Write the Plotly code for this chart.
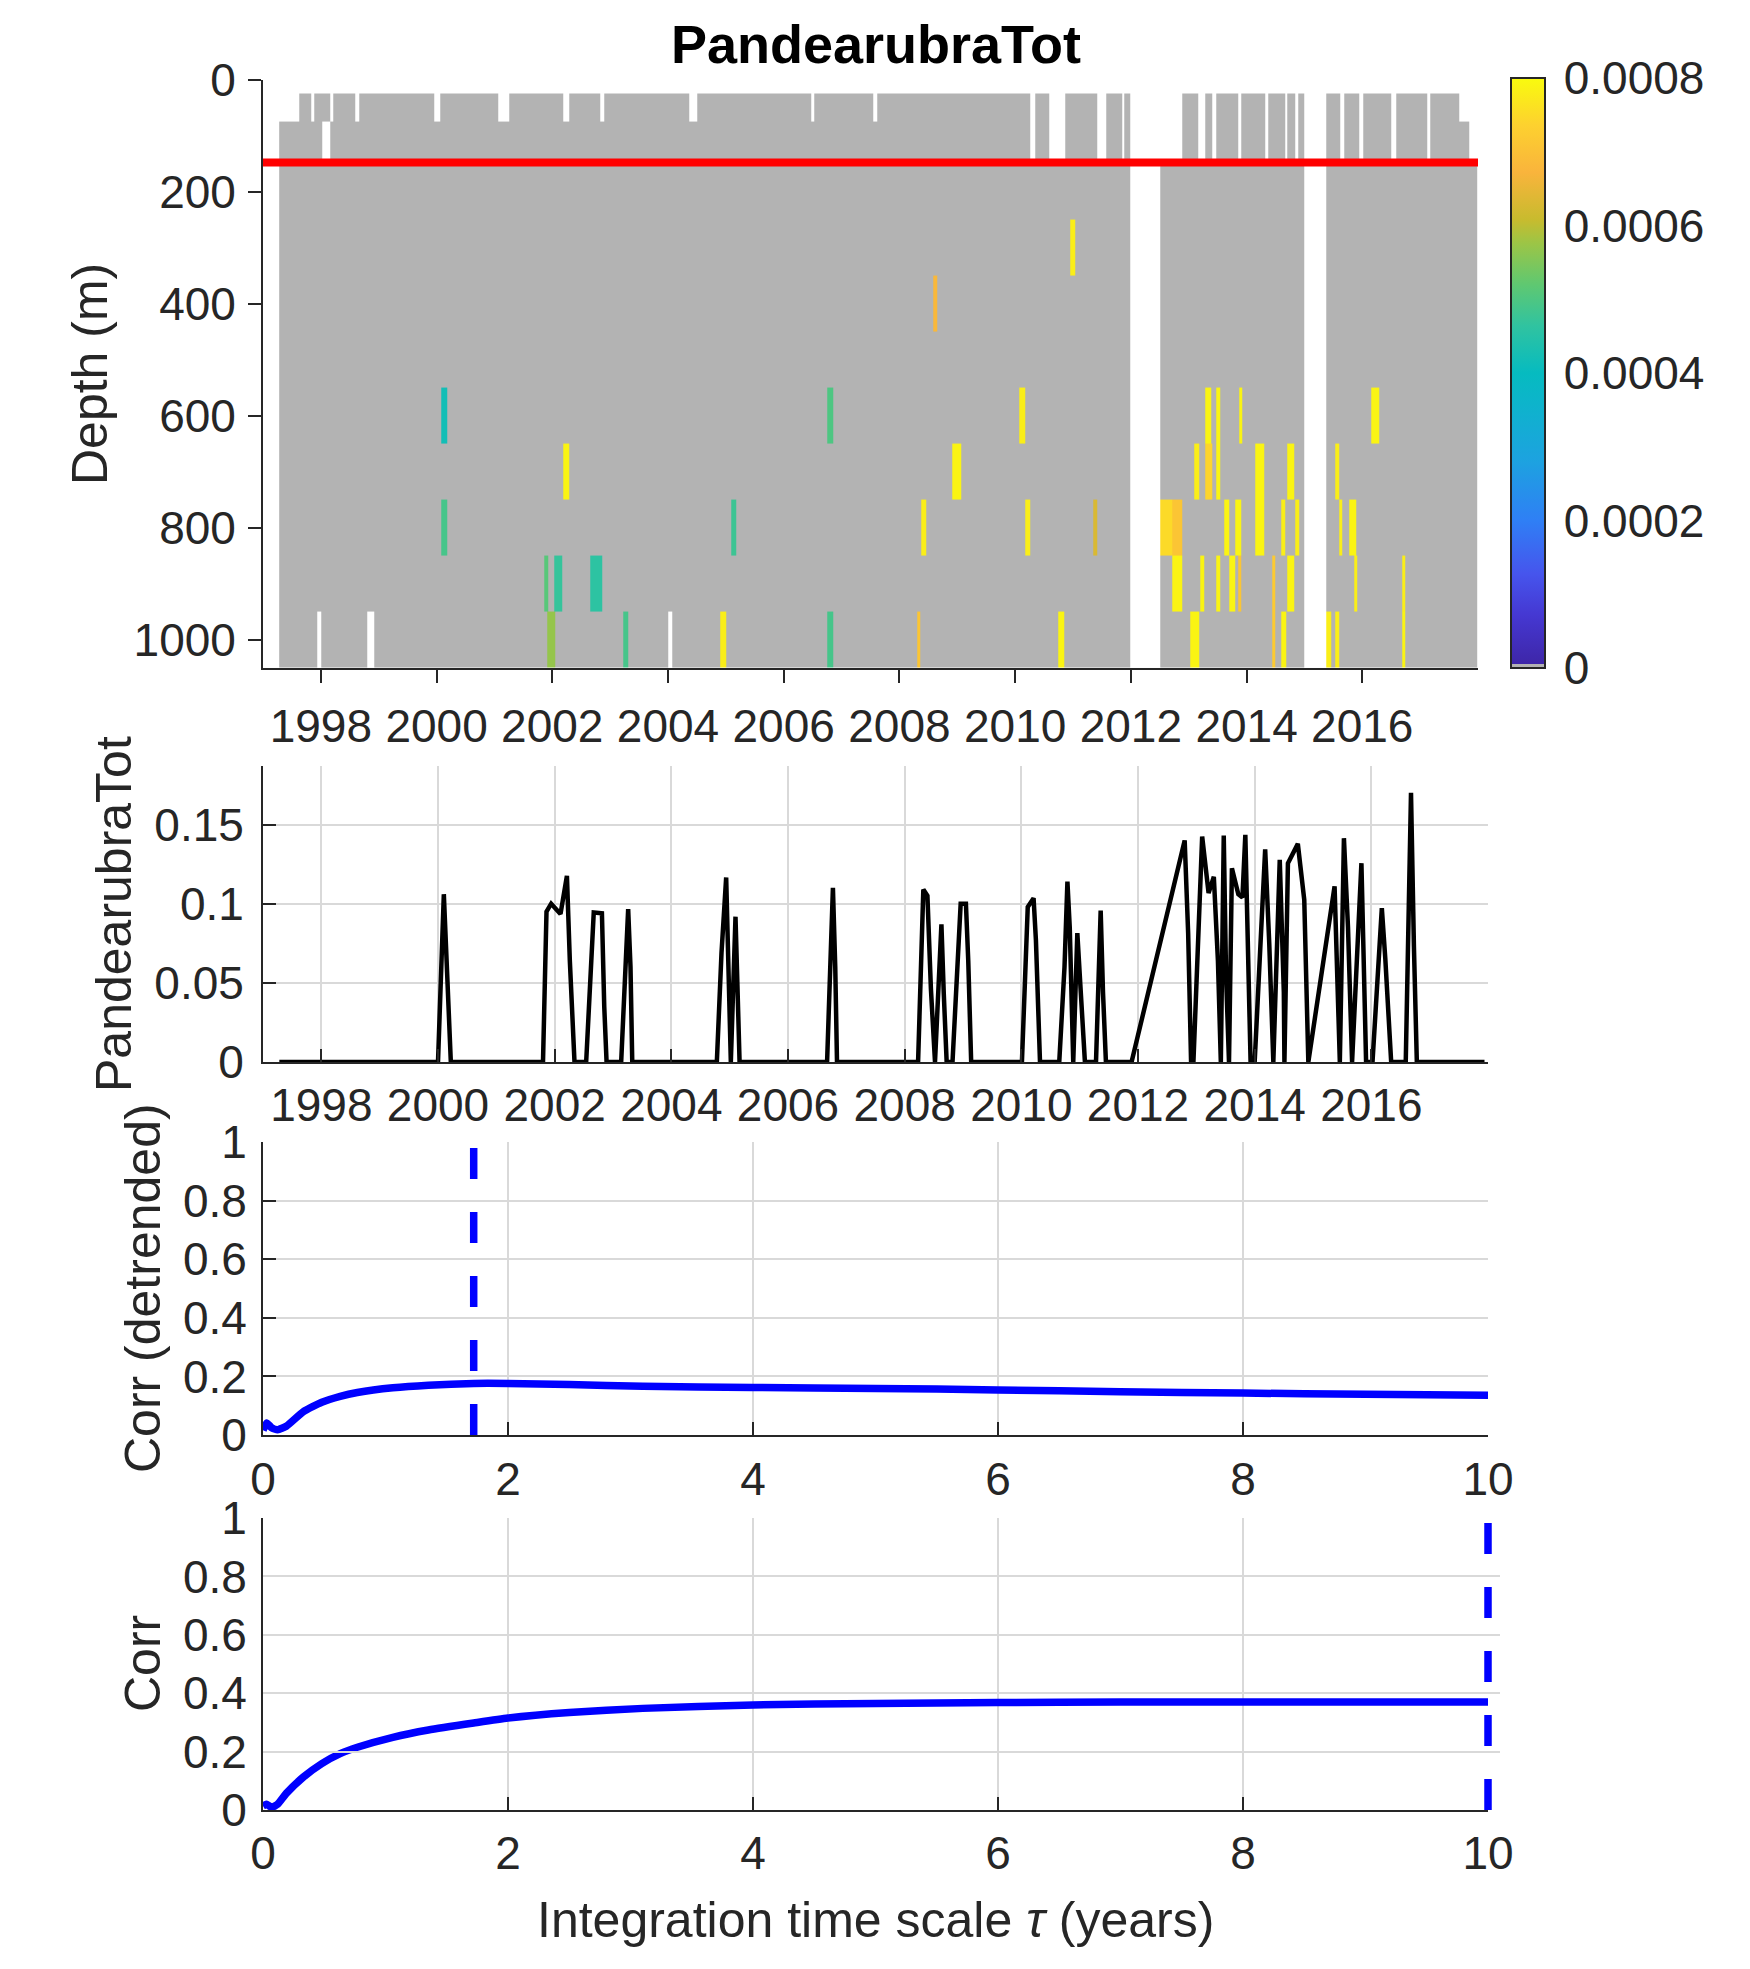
import plotly.graph_objects as go

# ---- top panel: depth/time section ----
depth_edges = [25, 75, 150, 250, 350, 450, 550, 650, 750, 850, 950, 1050]
row_depth = [50, 110, 200, 300, 400, 500, 600, 700, 800, 900, 1000]
row_start = [1997.62, 1997.28, 1997.28, 1997.28, 1997.28, 1997.28, 1997.28, 1997.28, 1997.28, 1997.28, 1997.28]
row_end = [2017.68, 2017.84, 2017.98, 2017.98, 2017.98, 2017.98, 2017.98, 2017.98, 2017.98, 2017.98, 2017.98]

gaps_all = [(2011.98, 2012.51), (2014.99, 2015.38)]
gaps_upper = [(2010.26, 2010.34), (2010.58, 2010.86), (2011.41, 2011.58), (2011.85, 2011.89),
              (2011.98, 2012.88), (2013.16, 2013.29), (2013.40, 2013.47), (2013.86, 2013.91),
              (2014.33, 2014.37), (2014.67, 2014.71), (2014.84, 2014.90), (2015.61, 2015.68),
              (2015.94, 2016.01), (2016.50, 2016.58), (2017.12, 2017.17)]
gaps_row50 = [(1997.84, 1997.89), (1998.16, 1998.22), (1998.60, 1998.67), (1999.96, 2000.07),
              (2001.07, 2001.25), (2002.18, 2002.29), (2002.82, 2002.90), (2004.37, 2004.50),
              (2006.47, 2006.53), (2007.54, 2007.62)]
gaps_row110 = [(1998.02, 1998.16)]
gaps_row1000 = [(1997.93, 1998.00), (1998.80, 1998.92), (2004.00, 2004.07)]

# (start, end, depth, value)
hits = [
    (2000.08, 2000.18, 600, 0.00042), (2006.76, 2006.85, 600, 0.00050),
    (2002.19, 2002.29, 700, 0.00079),
    (2000.08, 2000.18, 800, 0.00049), (2005.09, 2005.18, 800, 0.00048),
    (2001.86, 2001.93, 900, 0.00051), (2002.04, 2002.17, 900, 0.00047), (2002.65, 2002.86, 900, 0.00046),
    (2001.92, 2002.05, 1000, 0.00057), (2003.23, 2003.31, 1000, 0.00049),
    (2004.90, 2005.00, 1000, 0.00078), (2006.76, 2006.85, 1000, 0.00049),
    (2010.95, 2011.04, 300, 0.00078),
    (2008.59, 2008.66, 400, 0.00068),
    (2010.07, 2010.17, 600, 0.00078), (2013.28, 2013.38, 600, 0.00079), (2013.48, 2013.54, 600, 0.00079),
    (2013.87, 2013.92, 600, 0.00079), (2016.16, 2016.30, 600, 0.00079),
    (2008.92, 2009.07, 700, 0.00079), (2013.10, 2013.18, 700, 0.00078), (2013.28, 2013.40, 700, 0.00074),
    (2013.48, 2013.54, 700, 0.00079), (2014.15, 2014.30, 700, 0.00079), (2014.71, 2014.82, 700, 0.00079),
    (2015.53, 2015.60, 700, 0.00078),
    (2008.38, 2008.46, 800, 0.00078), (2010.18, 2010.26, 800, 0.00078), (2011.35, 2011.42, 800, 0.00063),
    (2012.51, 2012.71, 800, 0.00075), (2012.71, 2012.88, 800, 0.00071), (2013.62, 2013.70, 800, 0.00079),
    (2013.80, 2013.90, 800, 0.00079), (2014.15, 2014.30, 800, 0.00079), (2014.60, 2014.66, 800, 0.00078),
    (2014.84, 2014.91, 800, 0.00078), (2015.60, 2015.66, 800, 0.00078), (2015.78, 2015.90, 800, 0.00079),
    (2012.71, 2012.88, 900, 0.00079), (2013.19, 2013.27, 900, 0.00079), (2013.48, 2013.55, 900, 0.00079),
    (2013.70, 2013.80, 900, 0.00079), (2013.86, 2013.91, 900, 0.00071), (2014.44, 2014.50, 900, 0.00072),
    (2014.71, 2014.82, 900, 0.00079), (2015.86, 2015.91, 900, 0.00078), (2016.69, 2016.75, 900, 0.00078),
    (2008.30, 2008.36, 1000, 0.00071), (2010.74, 2010.85, 1000, 0.00079), (2013.03, 2013.18, 1000, 0.00079),
    (2014.44, 2014.50, 1000, 0.00072), (2014.60, 2014.69, 1000, 0.00079), (2015.38, 2015.46, 1000, 0.00078),
    (2015.53, 2015.60, 1000, 0.00078), (2016.69, 2016.75, 1000, 0.00079),
]

mixed_layer_depth = 148
year_ticks = [1998, 2000, 2002, 2004, 2006, 2008, 2010, 2012, 2014, 2016]
cbar_ticks = [0, 0.0002, 0.0004, 0.0006, 0.0008]
cbar_text = ['0', '0.0002', '0.0004', '0.0006', '0.0008']

# ---- middle panel: integrated time series ----
ts_year = [1997.28, 2000.00, 2000.10, 2000.15, 2000.22,
           2001.80, 2001.86, 2001.94, 2002.10, 2002.21, 2002.26, 2002.34,
           2002.54, 2002.67, 2002.81, 2002.85, 2002.89,
           2003.14, 2003.21, 2003.26, 2003.30, 2003.33,
           2004.78, 2004.86, 2004.94, 2004.98, 2005.02, 2005.10, 2005.13, 2005.17,
           2006.67, 2006.72, 2006.77, 2006.81, 2006.84,
           2008.23, 2008.30, 2008.32, 2008.39, 2008.45, 2008.52, 2008.58, 2008.63, 2008.67, 2008.72,
           2008.82, 2008.89, 2008.96, 2009.05, 2009.09, 2009.14,
           2010.01, 2010.11, 2010.21, 2010.25, 2010.32,
           2010.65, 2010.74, 2010.79, 2010.83, 2010.89, 2010.96, 2011.02, 2011.09,
           2011.28, 2011.32, 2011.36, 2011.40, 2011.45,
           2011.89, 2012.80, 2012.86, 2012.91, 2012.95, 2013.03, 2013.10, 2013.21, 2013.30, 2013.37,
           2013.42, 2013.47, 2013.51, 2013.56, 2013.61, 2013.72, 2013.79, 2013.84, 2013.93,
           2014.00, 2014.18, 2014.25, 2014.32, 2014.43, 2014.50, 2014.51, 2014.57, 2014.74, 2014.85,
           2014.92, 2015.37, 2015.46, 2015.53, 2015.60, 2015.67, 2015.83, 2015.88, 2015.91,
           2016.02, 2016.18, 2016.24, 2016.34, 2016.59, 2016.64, 2016.68, 2016.73, 2016.78, 2017.94]
ts_val = [0, 0, 0.106, 0.065, 0,
          0, 0.095, 0.100, 0.0935, 0.1176, 0.064, 0,
          0, 0.0945, 0.094, 0.035, 0,
          0, 0.060, 0.0966, 0.060, 0,
          0, 0.069, 0.1166, 0.060, 0, 0.0918, 0.039, 0,
          0, 0.056, 0.110, 0.060, 0,
          0, 0.073, 0.109, 0.105, 0.046, 0, 0.054, 0.087, 0.0435, 0,
          0, 0.054, 0.100, 0.100, 0.064, 0,
          0, 0.098, 0.1035, 0.077, 0,
          0, 0.060, 0.114, 0.085, 0, 0.0814, 0.0435, 0,
          0, 0.044, 0.0957, 0.044, 0,
          0, 0.140, 0.081, 0, 0, 0.086, 0.1424, 0.1067, 0.117, 0.064,
          0, 0.143, 0.054, 0, 0.1224, 0.106, 0.104, 0.1435, 0,
          0, 0.1344, 0.075, 0, 0.1277, 0.044, 0, 0.1256, 0.1378, 0.1025,
          0, 0.111, 0, 0.1414, 0.085, 0, 0.1256, 0.044, 0,
          0, 0.0972, 0.065, 0, 0, 0.079, 0.170, 0.073, 0, 0]

# ---- lower panels: correlation vs integration time scale ----
tau = [0, 0.03, 0.07, 0.12, 0.19, 0.33, 0.48, 0.63, 0.77, 1.06, 1.35, 1.72, 2.0, 2.5, 3.1,
       4.0, 5.0, 6.0, 7.0, 8.0, 9.0, 10.0]
corr_detrended = [0.016, 0.041, 0.025, 0.018, 0.030, 0.080, 0.112, 0.132, 0.145, 0.161, 0.170, 0.176,
                  0.176, 0.172, 0.166, 0.162, 0.159, 0.154, 0.148, 0.143, 0.139, 0.136]
corr = [0.014, 0.020, 0.009, 0.020, 0.057, 0.113, 0.159, 0.193, 0.215, 0.249, 0.274, 0.298,
        0.315, 0.334, 0.348, 0.360, 0.365, 0.368, 0.370, 0.370, 0.370, 0.370]
best_tau_detrended = 1.72
best_tau = 10.0

# build heatmap grid
row_gaps = [list(gaps_all) for _ in row_depth]
for r in (0, 1):
    row_gaps[r] += gaps_upper
row_gaps[0] += gaps_row50
row_gaps[1] += gaps_row110
row_gaps[10] += gaps_row1000

edges = set(row_start + row_end)
for g in row_gaps:
    for a, b in g:
        edges.update([a, b])
for a, b, d, v in hits:
    edges.update([a, b])
edges = sorted(round(e, 3) for e in edges)

z = []
for r, d in enumerate(row_depth):
    row = []
    for a, b in zip(edges[:-1], edges[1:]):
        m = 0.5 * (a + b)
        if m < row_start[r] or m > row_end[r] or any(g0 < m < g1 for g0, g1 in row_gaps[r]):
            row.append(None)
            continue
        val = 0
        for h0, h1, hd, hv in hits:
            if hd == d and h0 < m < h1:
                val = hv
        row.append(val)
    z.append(row)

parula_gray = [
    [0.0, '#b3b3b3'], [0.006, '#b3b3b3'], [0.006, '#3e26a8'], [0.09, '#4538d2'],
    [0.16, '#4655ed'], [0.25, '#2f7ff5'], [0.35, '#1da2e0'], [0.45, '#0db4cb'],
    [0.5, '#06bbc0'], [0.58, '#30c3a0'], [0.65, '#5fc871'], [0.72, '#9cc546'],
    [0.76, '#c8bb2e'], [0.84, '#f9b43c'], [0.92, '#fdd12f'], [1.0, '#f9fb0e'],
]

W, H = 1750, 1969
OFF = 8  # the page body margin shifts the figure by this much


def fx(px):
    return (px - OFF) / W


def fy(py):
    return 1 - (py - OFF) / H


FONT = 'Liberation Sans, Arial, Helvetica, sans-serif'
INK = '#262626'
TICK = 46

fig = go.Figure()

fig.add_trace(go.Heatmap(
    x=edges, y=depth_edges, z=z, zmin=0, zmax=0.0008, colorscale=parula_gray,
    xaxis='x', yaxis='y', hoverinfo='skip',
    colorbar=dict(
        x=fx(1511), xanchor='left', xpad=0, thickness=34,
        y=fy(668), yanchor='bottom', ypad=0, lenmode='pixels', len=590,
        outlinecolor=INK, outlinewidth=2,
        tickvals=cbar_ticks, ticktext=cbar_text, ticks='outside', ticklen=9,
        tickcolor='rgba(0,0,0,0)', tickfont=dict(family=FONT, size=TICK, color=INK),
    ),
))
fig.add_trace(go.Scatter(
    x=[1997, 2018], y=[mixed_layer_depth, mixed_layer_depth], mode='lines',
    line=dict(color='#ff0000', width=8), xaxis='x', yaxis='y', hoverinfo='skip',
))

fig.add_trace(go.Scatter(
    x=ts_year, y=ts_val, mode='lines', line=dict(color='black', width=4.5),
    xaxis='x2', yaxis='y2',
))

fig.add_trace(go.Scatter(
    x=tau, y=corr_detrended, mode='lines', line=dict(color='#0000ff', width=7.5, shape='spline', smoothing=0.5),
    xaxis='x3', yaxis='y3',
))
fig.add_trace(go.Scatter(
    x=[best_tau_detrended, best_tau_detrended], y=[0, 1], mode='lines',
    line=dict(color='#0000ff', width=7.5, dash='31px,33px'), xaxis='x3', yaxis='y3',
))
fig.add_trace(go.Scatter(
    x=tau, y=corr, mode='lines', line=dict(color='#0000ff', width=7.5, shape='spline', smoothing=0.5),
    xaxis='x4', yaxis='y4',
))
# same scale as x4, a few px wider so the line on the right edge is not cut
fig.add_trace(go.Scatter(
    x=[best_tau, best_tau], y=[0, 1], mode='lines',
    line=dict(color='#0000ff', width=7.5, dash='31px,33px'), xaxis='x5', yaxis='y4',
))

tickfont = dict(family=FONT, size=TICK, color=INK)
common = dict(showline=True, linecolor=INK, linewidth=1.8, zeroline=False, tickfont=tickfont,
              tickcolor=INK, tickwidth=1.8, ticklen=13, automargin=False)
grid = dict(showgrid=True, gridcolor='#d9d9d9', gridwidth=1.5)

fig.update_layout(
    width=W, height=H, margin=dict(l=0, r=0, t=0, b=0, autoexpand=False),
    paper_bgcolor='white', plot_bgcolor='rgba(0,0,0,0)', showlegend=False,
    font=dict(family=FONT, color=INK),
    xaxis=dict(domain=[fx(263), fx(1478)], anchor='y', range=[1997, 2018], tickvals=year_ticks,
               ticks='outside', showgrid=False, ticklabelstandoff=4, layer='below traces', **common),
    yaxis=dict(domain=[fy(668), fy(79.5)], anchor='x', range=[1050, 0],
               tickvals=[0, 200, 400, 600, 800, 1000], ticks='outside', showgrid=False,
               ticklabelstandoff=3, **common),
    xaxis2=dict(domain=[fx(263), fx(1488)], anchor='y2', range=[1997, 2018], tickvals=year_ticks,
                ticks='inside', ticklabelstandoff=2, **grid, **common),
    yaxis2=dict(domain=[fy(1062), fy(766)], anchor='x2', range=[0, 0.187],
                tickvals=[0, 0.05, 0.1, 0.15], ticktext=['0', '0.05', '0.1', '0.15'],
                ticks='inside', ticklabelstandoff=8, **grid, **common),
    xaxis3=dict(domain=[fx(263), fx(1488)], anchor='y3', range=[0, 10], tickvals=[0, 2, 4, 6, 8, 10],
                ticks='inside', ticklabelstandoff=3, **grid, **common),
    yaxis3=dict(domain=[fy(1435), fy(1142)], anchor='x3', range=[0, 1],
                tickvals=[0, 0.2, 0.4, 0.6, 0.8, 1], ticktext=['0', '0.2', '0.4', '0.6', '0.8', '1'],
                ticks='inside', ticklabelstandoff=5, **grid, **common),
    xaxis4=dict(domain=[fx(263), fx(1488)], anchor='y4', range=[0, 10], tickvals=[0, 2, 4, 6, 8, 10],
                ticks='inside', ticklabelstandoff=2, **grid, **common),
    yaxis4=dict(domain=[fy(1810), fy(1518)], anchor='x4', range=[0, 1],
                tickvals=[0, 0.2, 0.4, 0.6, 0.8, 1], ticktext=['0', '0.2', '0.4', '0.6', '0.8', '1'],
                ticks='inside', ticklabelstandoff=5, **grid, **common),
    xaxis5=dict(domain=[fx(263), fx(1500)], anchor='y4', range=[0, 10 * (1500 - 263) / (1488 - 263)],
                visible=False, automargin=False),
    title=dict(text='<b>PandearubraTot</b>', x=fx(876), xanchor='center', y=fy(44), yanchor='middle',
               font=dict(family=FONT, size=54, color='black'), automargin=False),
)

label_font = dict(family=FONT, size=50, color=INK)
ylabels = [('Depth (m)', 90, 374), ('PandearubraTot', 114, 914),
           ('Corr (detrended)', 143, 1288), ('Corr', 143, 1664)]
for text, px, py in ylabels:
    fig.add_annotation(text=text, x=fx(px), y=fy(py), xref='paper', yref='paper',
                       textangle=-90, showarrow=False, xanchor='center', yanchor='middle', font=label_font)
fig.add_annotation(text='Integration time scale <i>τ</i> (years)', x=fx(875.5), y=fy(1920),
                   xref='paper', yref='paper', showarrow=False, xanchor='center', yanchor='middle',
                   font=label_font)

fig.write_html('out.html')
